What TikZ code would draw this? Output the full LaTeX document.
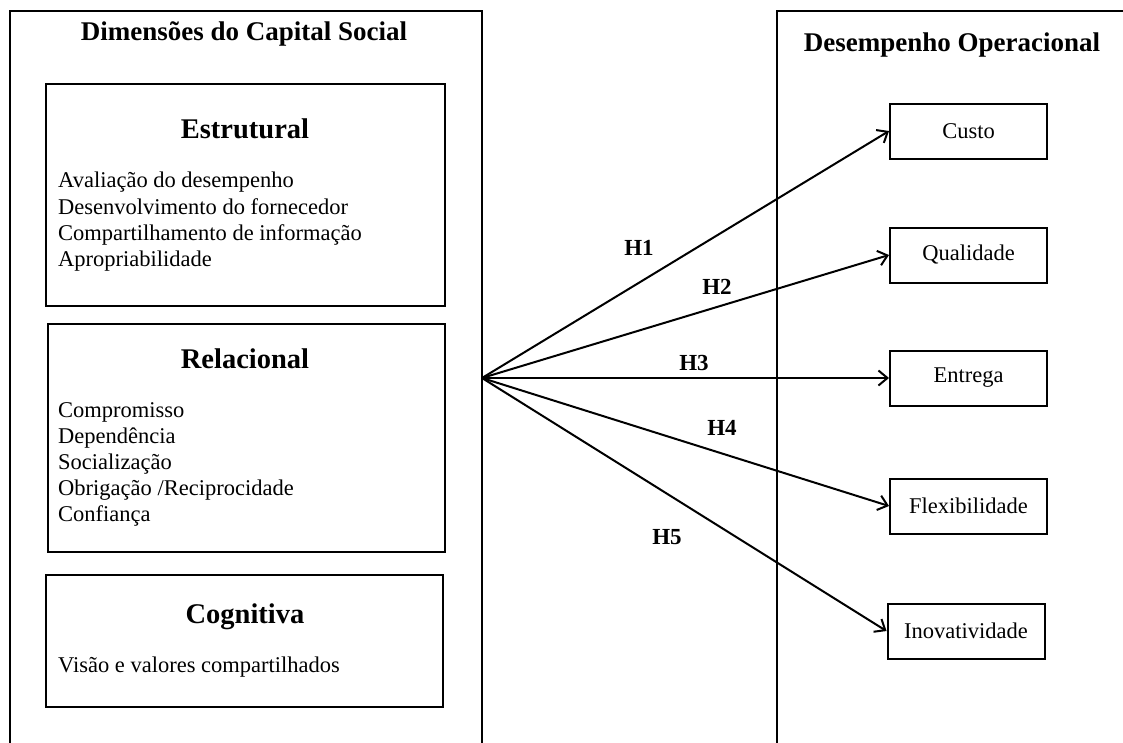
\documentclass[tikz,border=0pt]{standalone}
\usepackage{fontspec}
\setmainfont{Liberation Serif}
\usetikzlibrary{arrows.meta}
\begin{document}
\begin{tikzpicture}[x=1pt,y=-1pt,
  frame/.style={line width=2pt, line join=miter},
  group/.style={draw, line width=2pt, inner sep=0pt},
  dimbox/.style={draw, line width=2pt, inner sep=0pt, minimum width=157pt, minimum height=55pt,
    font=\fontsize{22.5}{26}\selectfont},
  maintitle/.style={font=\bfseries\fontsize{27}{30}\selectfont, inner sep=0pt, anchor=base},
  subtitle/.style={font=\bfseries\fontsize{28.5}{31}\selectfont, inner sep=0pt, anchor=base},
  items/.style={font=\fontsize{22.5}{26.2}\selectfont, align=left, inner sep=0pt, anchor=north west},
  hlabel/.style={font=\bfseries\fontsize{23}{26}\selectfont, inner sep=0pt},
  hyp/.style={line width=2pt, -{Straight Barb[length=9pt,width=15pt]}}]
\useasboundingbox (0,0) rectangle (1123,742);
\clip (0,0) rectangle (1123,742);
% outer frames
\draw[frame] (10,750) -- (10,11) -- (482,11) -- (482,750);
\draw[frame] (1130,11) -- (777,11) -- (777,750);
\node[maintitle] (tleft) at (244,40) {Dimensões do Capital Social};
\node[maintitle] (tright) at (952,51) {Desempenho Operacional};
% left group boxes
\node[group, minimum width=399pt, minimum height=222pt] (estr) at (245.5,195) {};
\node[group, minimum width=397pt, minimum height=228pt] (rel) at (246.5,438) {};
\node[group, minimum width=397pt, minimum height=132pt] (cog) at (244.5,641) {};
\node[subtitle] (estrT) at (245,138) {Estrutural};
\node[subtitle] (relT) at (245,368) {Relacional};
\node[subtitle] (cogT) at (245,623) {Cognitiva};
\node[items] (estrI) at (58,172) {Avaliação do desempenho\\Desenvolvimento do fornecedor\\Compartilhamento de informação\\Apropriabilidade};
\node[items] (relI) at (58,402) {Compromisso\\Dependência\\Socialização\\Obrigação /Reciprocidade\\Confiança};
\node[items] (cogI) at (58,657) {Visão e valores compartilhados};
% right boxes
\node[dimbox] (custo) at (968.5,131) {Custo};
\node[dimbox] (qual) at (968.5,255) {Qualidade};
\node[dimbox] (entr) at (968.5,378) {Entrega};
\node[dimbox] (flex) at (968.5,506) {Flexibilidade};
\node[dimbox] (inov) at (966,631) {Inovatividade};
% source
\coordinate (src) at (482,378);
\draw[hyp] (src) -- (custo.west);
\draw[hyp] (src) -- (qual.west);
\draw[hyp] (src) -- (entr.west);
\draw[hyp] (src) -- (flex.west);
\draw[hyp] (src) -- (inov.west);
\node[hlabel] (h1) at (639,248) {H1};
\node[hlabel] (h2) at (717,287) {H2};
\node[hlabel] (h3) at (694,363) {H3};
\node[hlabel] (h4) at (722,428) {H4};
\node[hlabel] (h5) at (667,537) {H5};
\end{tikzpicture}
\end{document}
